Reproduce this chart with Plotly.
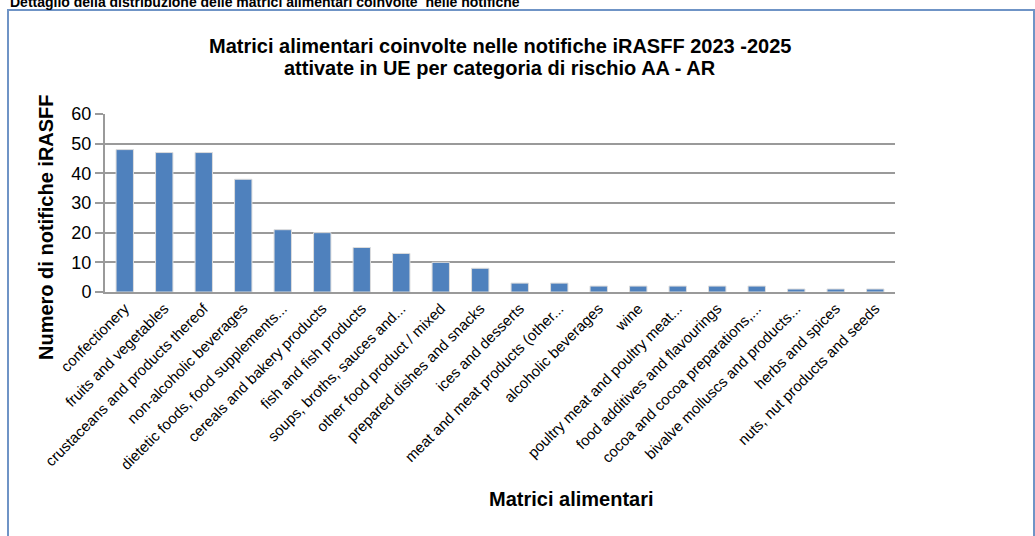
import plotly.graph_objects as go

# ── Dati ─────────────────────────────────────────────────────────────────────
categorie = [
    "confectionery",
    "fruits and vegetables",
    "crustaceans and products thereof",
    "non-alcoholic beverages",
    "dietetic foods, food supplements...",
    "cereals and bakery products",
    "fish and fish products",
    "soups, broths, sauces and...",
    "other food product / mixed",
    "prepared dishes and snacks",
    "ices and desserts",
    "meat and meat products (other...",
    "alcoholic beverages",
    "wine",
    "poultry meat and poultry meat...",
    "food additives and flavourings",
    "cocoa and cocoa preparations,...",
    "bivalve molluscs and products...",
    "herbs and spices",
    "nuts, nut products and seeds",
]
notifiche = [48, 47, 47, 38, 21, 20, 15, 13, 10, 8, 3, 3, 2, 2, 2, 2, 2, 1, 1, 1]
y_ticks = [0, 10, 20, 30, 40, 50, 60]

titolo_1 = "Matrici alimentari coinvolte nelle notifiche iRASFF 2023 -2025"
titolo_2 = "attivate in UE per categoria di rischio AA - AR"
intestazione = "Dettaglio della distribuzione delle matrici alimentari coinvolte  nelle notifiche"

# ── Stile ────────────────────────────────────────────────────────────────────
_FONT  = "Liberation Sans Narrow, Arial Narrow, Liberation Sans, Arial"
_BAR   = "#4F81BD"
_GRID  = "#9a9a9a"
_FRAME = "#6f94c6"
W, H = 1035, 536
L, R, T, B = 105, 140, 114, 244          # area del grafico: x 105-895, y 114-292
PW, PH = W - L - R, H - T - B


def px_x(x):   # pixel -> paper
    return (x - L) / PW


def px_y(y):
    return (T + PH - y) / PH


fig = go.Figure()
fig.add_trace(go.Bar(
    x=categorie, y=notifiche,
    marker=dict(color=_BAR, line=dict(color="#dcdcdc", width=1)),
    showlegend=False,
))

fig.update_layout(
    width=W, height=H,
    paper_bgcolor="white", plot_bgcolor="white",
    margin=dict(l=L, r=R, t=T, b=B, autoexpand=False),
    bargap=0.56,
    font=dict(family=_FONT, color="#000000"),
    xaxis=dict(
        tickangle=-45, tickfont=dict(family="Liberation Sans, Arial", size=15, color="#000000"),
        showline=True, linecolor=_GRID, linewidth=2, showgrid=False,
        ticks="", automargin=False,
    ),
    yaxis=dict(
        range=[0, 60], tickvals=y_ticks,
        tickfont=dict(family=_FONT, size=18, color="#000000"),
        showline=True, linecolor=_GRID, linewidth=2,
        showgrid=True, gridcolor=_GRID, gridwidth=2,
        ticks="outside", ticklen=8, tickcolor=_GRID, tickwidth=2,
        zeroline=False, automargin=False,
    ),
)

# Cornice del grafico
fig.add_shape(type="rect", xref="paper", yref="paper",
              x0=px_x(8), x1=px_x(1034), y0=px_y(560), y1=px_y(10),
              line=dict(color=_FRAME, width=2), fillcolor="rgba(0,0,0,0)", layer="below")

# Titolo (due righe)
for testo, yy in [(titolo_1, 46), (titolo_2, 68)]:
    fig.add_annotation(text=f"<b>{testo}</b>", xref="paper", yref="paper",
                       x=px_x(500), y=px_y(yy), xanchor="center", yanchor="middle",
                       showarrow=False, font=dict(family=_FONT, size=20, color="#000000"))

# Titolo asse y
fig.add_annotation(text="<b>Numero di notifiche iRASFF</b>", xref="paper", yref="paper",
                   x=px_x(46), y=px_y(227), xanchor="center", yanchor="middle", textangle=-90,
                   showarrow=False, font=dict(family=_FONT, size=20, color="#000000"))

# Titolo asse x
fig.add_annotation(text="<b>Matrici alimentari</b>", xref="paper", yref="paper",
                   x=px_x(571), y=px_y(499), xanchor="center", yanchor="middle",
                   showarrow=False, font=dict(family=_FONT, size=20, color="#000000"))

# Intestazione tagliata in alto (come nel riferimento)
fig.add_annotation(text=f"<b>{intestazione}</b>", xref="paper", yref="paper",
                   x=px_x(8), y=px_y(2), xanchor="left", yanchor="middle",
                   showarrow=False, font=dict(family="Liberation Sans, Arial", size=14, color="#000000"))

fig.write_html("out.html", config={"displayModeBar": False},
               post_script="document.body.style.margin='0';")
